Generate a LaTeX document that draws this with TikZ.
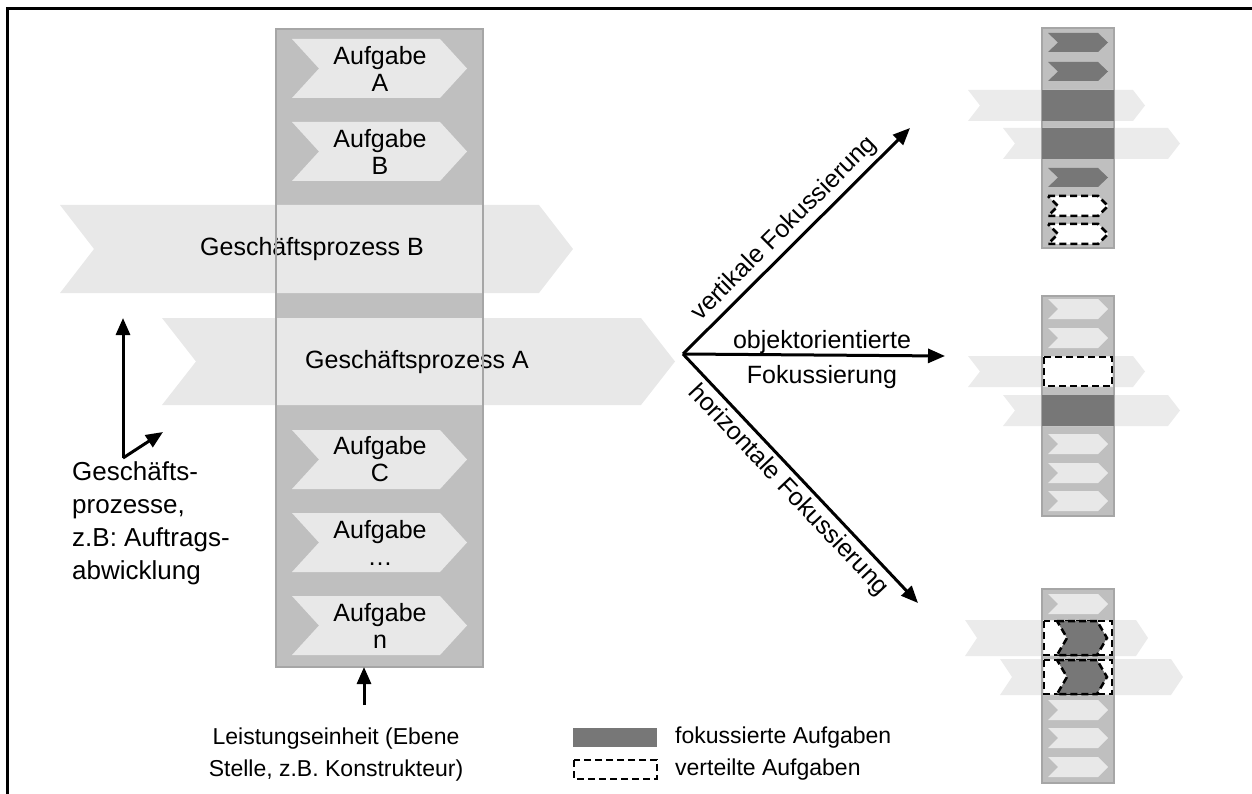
\documentclass[tikz,border=0pt]{standalone}
\usepackage{fontspec}
\setmainfont{Liberation Sans}
\usetikzlibrary{arrows.meta}
\definecolor{colfill}{HTML}{BFBFBF}
\definecolor{colline}{HTML}{A6A6A6}
\definecolor{taskfill}{HTML}{E8E8E8}
\definecolor{bandfill}{HTML}{EBEBEB}
\definecolor{focus}{HTML}{777777}
% chevron outline: left x, tip x, top y, bottom y, notch/tip depth
\newcommand\chevpath[5]{(#1,#3) -- ({#2-#5},#3) -- (#2,{(#3+#4)/2}) -- ({#2-#5},#4) -- (#1,#4) -- ({#1+#5},{(#3+#4)/2}) -- cycle}
\tikzset{
  colbox/.style={draw=colline, line width=2pt},
  arr/.style={line width=3pt, -{Triangle[length=17pt,width=14pt]}},
  dashbox/.style={draw=black, line width=2.5pt, dash pattern=on 7pt off 4pt},
  lbl/.style={font=\fontsize{25}{27}\selectfont, align=center, inner sep=0pt},
  leg/.style={font=\fontsize{23}{27}\selectfont, anchor=west, inner sep=0pt},
}
\begin{document}
\begin{tikzpicture}[x=1pt,y=-1pt]
\useasboundingbox (0,0) rectangle (1252,794);
% frame
\draw[line width=3pt] (7,794) -- (7,9) -- (1252,9);

% ---- main column with business processes ----
\fill[colfill] (276,29) rectangle (483,667);
\fill[taskfill] \chevpath{60}{573}{205}{293}{34};
\fill[taskfill] \chevpath{162}{675}{318}{405}{34};
\node[lbl] (gpB) at (312,249) {Geschäftsprozess B};
\node[lbl] (gpA) at (417,362) {Geschäftsprozess A};
\draw[colbox] (276,29) rectangle (483,667);
\coordinate (colbot) at (364,667);
\foreach \t/\lab/\nm in {39/A/ta, 122/B/tb, 430/C/tc, 513/…/td, 596/n/tn} {
  \fill[taskfill] \chevpath{292}{467}{\t}{\t+59}{27};
  \node[lbl] (\nm) at (380,\t+29.5) {Aufgabe\\\lab};
}

% ---- axes on the left ----
\coordinate (ax0) at (123,458);
\coordinate (axup) at (123,318);
\coordinate (axdiag) at (163,432);
\draw[arr] (ax0) -- (axup);
\draw[arr] (ax0) -- (axdiag);
\node[font=\fontsize{26}{33}\selectfont, align=left, inner sep=0pt, anchor=north west]
  (gplabel) at (72,461) {Geschäfts-\\prozesse,\\z.B: Auftrags-\\abwicklung};

% ---- organisational unit ----
\node[font=\fontsize{23}{32}\selectfont, align=center, inner sep=0pt, anchor=north]
  (unit) at (336,728) {Leistungseinheit (Ebene\\Stelle, z.B. Konstrukteur)};
\coordinate (unitarr) at (364,705);
\draw[arr] (unitarr) -- (colbot);

% ---- focus arrows ----
\coordinate (o) at (683,354);
\coordinate (vend) at (910,128);
\coordinate (hend) at (945,356);
\coordinate (dend) at (918,603);
\draw[arr] (o) -- (vend) node[midway, sloped, above=4pt, lbl] (vlab) {vertikale Fokussierung};
\draw[arr] (o) -- (hend);
\node[lbl] (olab1) at (822,342) {objektorientierte};
\node[lbl] (olab2) at (822,377) {Fokussierung};
\draw[arr] (o) -- (dend) node[midway, sloped, below=4pt, lbl] (hlab) {horizontale Fokussierung};

% ---- vertical focus ----
\fill[colfill] (1042,28) rectangle (1114,248);
\fill[bandfill] \chevpath{968}{1145}{90}{121}{12};
\fill[bandfill] \chevpath{1003}{1180}{128}{159}{12};
\draw[colbox] (1042,28) rectangle (1114,248);
\fill[focus] (1042,90) rectangle (1114,121);
\fill[focus] (1042,128) rectangle (1114,159);
\foreach \t in {33,62,168} \fill[focus] \chevpath{1048}{1108}{\t}{\t+19}{10};
\foreach \t in {196,224} \filldraw[fill=white, dashbox] \chevpath{1048}{1108}{\t}{\t+20}{10};

% ---- object oriented focus ----
\fill[colfill] (1042,296) rectangle (1114,516);
\fill[bandfill] \chevpath{968}{1145}{356}{387}{12};
\fill[bandfill] \chevpath{1003}{1180}{395}{426}{12};
\draw[colbox] (1042,296) rectangle (1114,516);
\foreach \t in {299,328,434,463,491} \fill[taskfill] \chevpath{1048}{1108}{\t}{\t+20}{10};
\filldraw[fill=white, dashbox] (1044,357) rectangle (1112,386);
\fill[focus] (1042,395) rectangle (1114,426);

% ---- horizontal focus ----
\fill[colfill] (1042,589) rectangle (1114,783);
\fill[bandfill] \chevpath{965}{1148}{620}{656}{12};
\fill[bandfill] \chevpath{1000}{1183}{659}{695}{12};
\draw[colbox] (1042,589) rectangle (1114,783);
\foreach \t in {594,700,728,757} \fill[taskfill] \chevpath{1048}{1108}{\t}{\t+20}{10};
\foreach \t in {621,660} {
  \filldraw[fill=white, dashbox] (1044,\t) rectangle (1112,\t+34);
  \filldraw[fill=focus, dashbox] \chevpath{1057}{1107}{\t}{\t+34}{10};
}

% ---- legend ----
\fill[focus] (573,728) rectangle (657,747);
\node[leg] (legf) at (675,738) {fokussierte Aufgaben};
\draw[dashbox] (574,760) rectangle (657,779);
\node[leg] (legv) at (675,770) {verteilte Aufgaben};
\end{tikzpicture}
\end{document}
